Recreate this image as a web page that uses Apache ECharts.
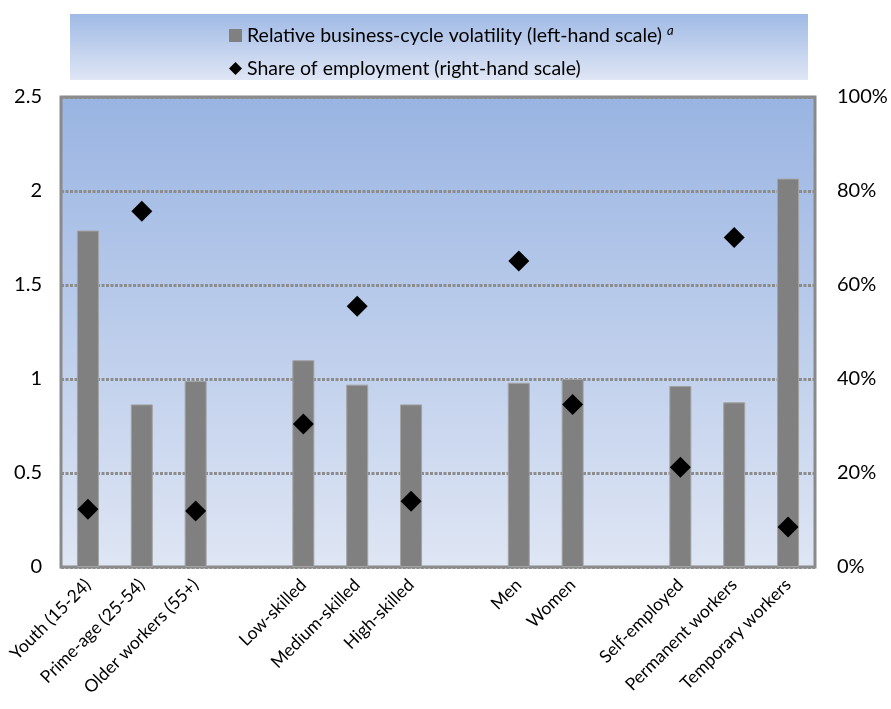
<!DOCTYPE html>
<html>
<head>
<meta charset="utf-8">
<script src="https://cdn.jsdelivr.net/npm/echarts@6/dist/echarts.min.js"></script>
<style>
html,body{margin:0;padding:0;background:#fff;}
#chart{width:891px;height:709px;}
</style>
</head>
<body>
<div id="chart"></div>
<script>
const categories = ['Youth (15-24)', 'Prime-age (25-54)', 'Older workers (55+)', '',
  'Low-skilled', 'Medium-skilled', 'High-skilled', '',
  'Men', 'Women', '',
  'Self-employed', 'Permanent workers', 'Temporary workers'];
const volatility = [1.79, 0.865, 0.99, null, 1.10, 0.97, 0.865, null, 0.98, 1.0, null, 0.963, 0.876, 2.066];
const employmentShare = [12.3, 75.7, 11.9, null, 30.4, 55.5, 14.0, null, 65.1, 34.6, null, 21.2, 70.1, 8.5];
const leftTicks = [0, 0.5, 1, 1.5, 2, 2.5];
const rightTicks = [0, 20, 40, 60, 80, 100];

const FONT = 'Lato, "Liberation Sans", Arial, sans-serif';
const chart = echarts.init(document.getElementById('chart'));
const gridBg = new echarts.graphic.LinearGradient(0, 0, 0, 1, [
  {offset: 0, color: '#99b4e2'}, {offset: 1, color: '#dfe6f4'}]);
const legBg = new echarts.graphic.LinearGradient(0, 0, 0, 1, [
  {offset: 0, color: '#a0bae5'}, {offset: 1, color: '#dfe6f5'}]);

chart.setOption({
  animation: false,
  textStyle: {fontFamily: FONT},
  graphic: [{
    type: 'rect', left: 70, top: 14, z: -1,
    shape: {width: 738, height: 66},
    style: {fill: legBg}
  }],
  legend: {
    orient: 'vertical', left: 224, top: 19, itemGap: 13,
    itemWidth: 13, itemHeight: 13,
    textStyle: {fontFamily: FONT, fontSize: 19.5, color: '#000',
      rich: {t: {fontFamily: FONT, fontSize: 19.5, color: '#000'},
             sup: {fontFamily: FONT, fontSize: 13, fontStyle: 'italic', color: '#000', verticalAlign: 'top', padding: [0,0,10,0]}}},
    data: [
      {name: 'vol', icon: 'rect', itemStyle: {color: '#808080', borderWidth: 0}},
      {name: 'share', icon: 'diamond'}
    ],
    formatter: function (n) {
      return n === 'vol' ? '{t|Relative business-cycle volatility (left-hand scale)} {sup|a}' : 'Share of employment (right-hand scale)';
    }
  },
  grid: {left: 61, right: 76, top: 97, bottom: 142, show: true,
    backgroundColor: gridBg, borderColor: '#8a8a8a', borderWidth: 3},
  xAxis: {
    type: 'category', data: categories,
    axisLine: {show: false}, axisTick: {show: false},
    axisLabel: {rotate: 45, fontSize: 17.5, color: '#000', fontFamily: FONT, margin: 15, interval: 0}
  },
  yAxis: [{
    type: 'value', min: 0, max: 2.5, interval: 0.5,
    axisLine: {show: false}, axisTick: {show: false},
    axisLabel: {fontSize: 20, color: '#000', fontFamily: FONT, margin: 19,
      formatter: v => String(v)},
    splitLine: {show: true, lineStyle: {color: '#8c8c8c', width: 3, type: [3, 1.5]}}
  }, {
    type: 'value', min: 0, max: 100, interval: 20,
    axisLine: {show: false}, axisTick: {show: false},
    axisLabel: {fontSize: 20, color: '#000', fontFamily: FONT, margin: 22,
      formatter: v => v + '%'},
    splitLine: {show: false}
  }],
  series: [{
    name: 'vol', type: 'bar', data: volatility, barWidth: 22,
    itemStyle: {color: '#808080', borderColor: '#a3a3a3', borderWidth: 1}
  }, {
    name: 'share', type: 'scatter', yAxisIndex: 1, data: employmentShare,
    symbol: 'diamond', symbolSize: [21, 21],
    itemStyle: {color: '#000', opacity: 1}, z: 5
  }]
});
</script>
</body>
</html>
